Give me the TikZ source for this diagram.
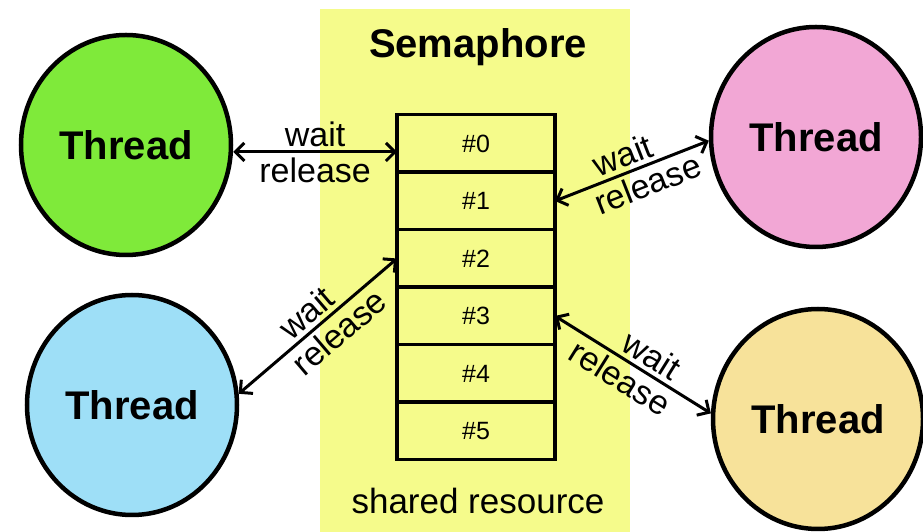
\documentclass[tikz,border=0pt]{standalone}
\usepackage{fontspec}
\setmainfont{Liberation Sans}
\usetikzlibrary{positioning,shapes.geometric,arrows.meta}

\definecolor{semayellow}{HTML}{F5FB8B}
\definecolor{thgreen}{HTML}{7FEA3A}
\definecolor{thpink}{HTML}{F2A7D5}
\definecolor{thblue}{HTML}{9EDFF7}
\definecolor{thtan}{HTML}{F7E29A}

\begin{document}
\begin{tikzpicture}[x=1pt,y=1pt,
    thread/.style={ellipse,draw,line width=4.5pt,minimum width=210pt,minimum height=220pt,
        font=\fontsize{40}{40}\selectfont\bfseries},
    slot/.style={draw,line width=3.5pt,minimum width=158pt,minimum height=57.5pt,outer sep=0pt,
        font=\fontsize{25}{25}\selectfont},
    link/.style={{Straight Barb[length=9pt,width=18pt]}-{Straight Barb[length=9pt,width=18pt]},line width=3pt},
    lbl/.style={font=\fontsize{34}{34}\selectfont,inner sep=4pt}]
    \useasboundingbox (0,0) rectangle (923,532);
    \fill[semayellow] (320,0) rectangle (630,523);
    \node[font=\fontsize{40}{40}\selectfont\bfseries] (title) at (478,485) {Semaphore};
    \node[font=\fontsize{35}{35}\selectfont] (shared) at (478,31) {shared resource};

    % the table
    \node[slot] (r0) at (476,388.5) {\#0};
    \node[slot,below=0pt of r0] (r1) {\#1};
    \node[slot,below=0pt of r1] (r2) {\#2};
    \node[slot,below=0pt of r2] (r3) {\#3};
    \node[slot,below=0pt of r3] (r4) {\#4};
    \node[slot,below=0pt of r4] (r5) {\#5};

    % threads
    \node[thread,fill=thgreen] (green) at (126,387) {Thread};
    \node[thread,fill=thpink] (pink) at (816,395) {Thread};
    \node[thread,fill=thblue] (blue) at (132,127) {Thread};
    \node[thread,fill=thtan] (tan) at (818,113) {Thread};

    \draw[link] ([yshift=-7pt]green.east) -- ([yshift=-8.5pt]r0.west)
        node[lbl,midway,above] {wait} node[lbl,midway,below] {release};
    \draw[link] (r1.east) -- (pink.182)
        node[lbl,pos=0.48,above,sloped] {wait} node[lbl,pos=0.56,below,sloped] {release};
    \draw[link] (blue.6) -- (r2.west)
        node[lbl,midway,above,sloped] {wait} node[lbl,pos=0.56,below,sloped] {release};
    \draw[link] (r3.east) -- (tan.177)
        node[lbl,pos=0.56,above,sloped] {wait} node[lbl,pos=0.48,below,sloped] {release};
\end{tikzpicture}
\end{document}
